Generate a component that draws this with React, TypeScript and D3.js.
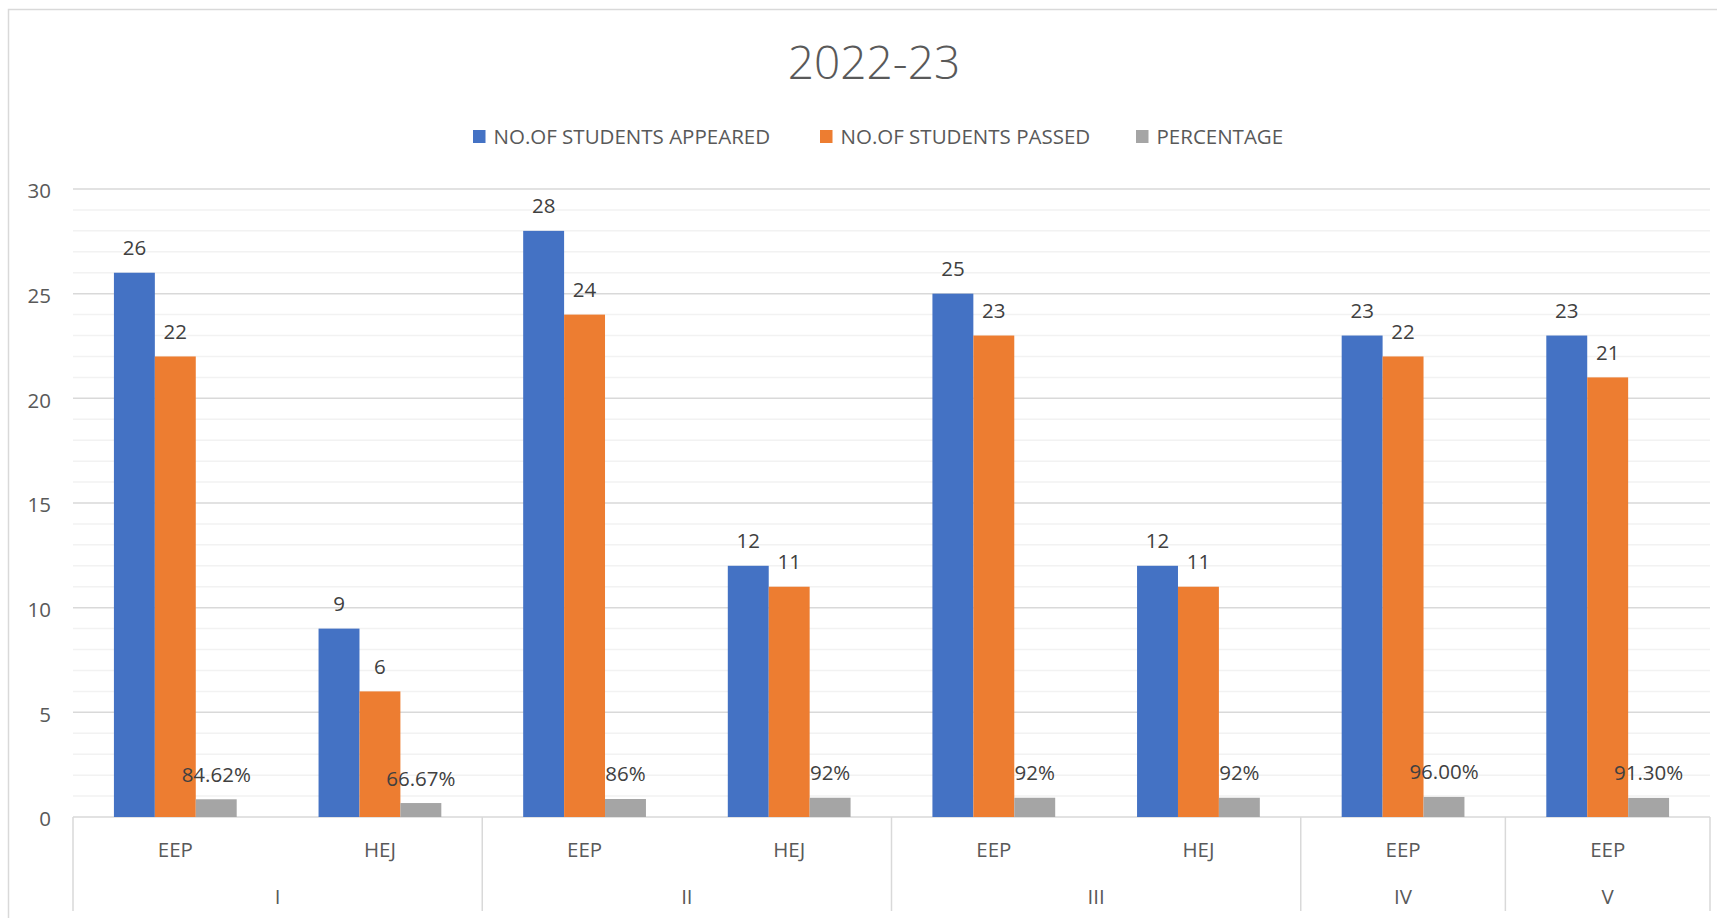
import React from 'react'
import * as d3 from 'd3'

// data
const classes = ['I', 'I', 'II', 'II', 'III', 'III', 'IV', 'V']
const courses = ['EEP', 'HEJ', 'EEP', 'HEJ', 'EEP', 'HEJ', 'EEP', 'EEP']
const appeared = [26, 9, 28, 12, 25, 12, 23, 23]
const passed = [22, 6, 24, 11, 23, 11, 22, 21]
const percentage = [0.8462, 0.6667, 0.86, 0.92, 0.92, 0.92, 0.96, 0.913]
const percentLabels = ['84.62%', '66.67%', '86%', '92%', '92%', '92%', '96.00%', '91.30%']
const seriesNames = ['NO.OF STUDENTS APPEARED', 'NO.OF STUDENTS PASSED', 'PERCENTAGE']
const seriesColors = ['#4472c4', '#ed7d31', '#a5a5a5']
const yTicks = [0, 5, 10, 15, 20, 25, 30]

const W = 1717
const H = 918
const font = '"Open Sans", "DejaVu Sans", sans-serif'

export default function App() {
	const left = 73
	const right = 1710
	const base = 817
	const top = 189

	const y = d3.scaleLinear().domain([0, 30]).range([base, top])
	const x0 = d3.scaleBand<number>().domain(d3.range(courses.length)).range([left, right])
	const x1 = d3.scaleBand<number>().domain([0, 1, 2]).range([0, x0.bandwidth()]).paddingInner(0).paddingOuter(1)

	const values = [appeared, passed, percentage]
	const labels = [appeared.map(String), passed.map(String), percentLabels]

	// outer class groups from the flat list
	const spans: { name: string, start: number, end: number }[] = []
	classes.forEach((c, i) => {
		const last = spans[spans.length - 1]
		if (last && last.name === c) last.end = i
		else spans.push({ name: c, start: i, end: i })
	})
	const sepIdx = [0, ...spans.map(s => s.end + 1)]

	const minor = d3.range(1, 30).filter(v => v % 5 !== 0)
	const legendX = [473, 820, 1136]

	return (
		<svg width={W} height={H} style={{ position: 'absolute', left: 0, top: 0, background: '#fff' }} fontFamily={font}>
			<rect x={8.5} y={9.5} width={W + 20} height={H + 20} fill="#fff" stroke="#d9d9d9" strokeWidth={1.5} />
			<text x={874} y={79} textAnchor="middle" fontSize={46} fontWeight={300} fill="#595959">2022-23</text>

			{seriesNames.map((s, i) => (
				<g key={s} transform={`translate(${legendX[i]},0)`}>
					<rect x={0} y={130} width={12.5} height={13} fill={seriesColors[i]} />
					<text x={20.5} y={144} fontSize={20.5} fill="#595959">{s}</text>
				</g>
			))}

			{minor.map(v => (
				<line key={'m' + v} x1={left} x2={right} y1={y(v)} y2={y(v)} stroke="#f2f2f2" strokeWidth={1.5} />
			))}
			{yTicks.map(v => (
				<g key={'t' + v}>
					<line x1={left} x2={right} y1={y(v)} y2={y(v)} stroke="#d9d9d9" strokeWidth={1.5} />
					<text x={51} y={y(v) + 2} dy="0.35em" textAnchor="end" fontSize={20.5} fill="#595959">{v}</text>
				</g>
			))}

			{values.map((vals, s) => (
				<g key={'s' + s}>
					{vals.map((v, i) => {
						const bx = x0(i)! + x1(s)!
						return (
							<g key={i}>
								<rect x={bx} y={y(v)} width={x1.bandwidth()} height={base - y(v)} fill={seriesColors[s]} />
								<text x={bx + x1.bandwidth() / 2} y={y(v) - 17.5} textAnchor="middle" fontSize={20.5} fill="#404040">{labels[s][i]}</text>
							</g>
						)
					})}
				</g>
			))}

			{courses.map((c, i) => (
				<text key={'c' + i} x={x0(i)! + x0.bandwidth() / 2} y={857} textAnchor="middle" fontSize={20.5} fill="#595959">{c}</text>
			))}
			{sepIdx.map(i => {
				const sx = i < courses.length ? x0(i)! : right
				return <line key={'sep' + i} x1={sx} x2={sx} y1={base} y2={911} stroke="#d9d9d9" strokeWidth={1.5} />
			})}
			{spans.map(s => (
				<text key={'g' + s.name} x={(x0(s.start)! + x0(s.end)! + x0.bandwidth()) / 2} y={904} textAnchor="middle" fontSize={20.5} fill="#595959">{s.name}</text>
			))}
		</svg>
	)
}
